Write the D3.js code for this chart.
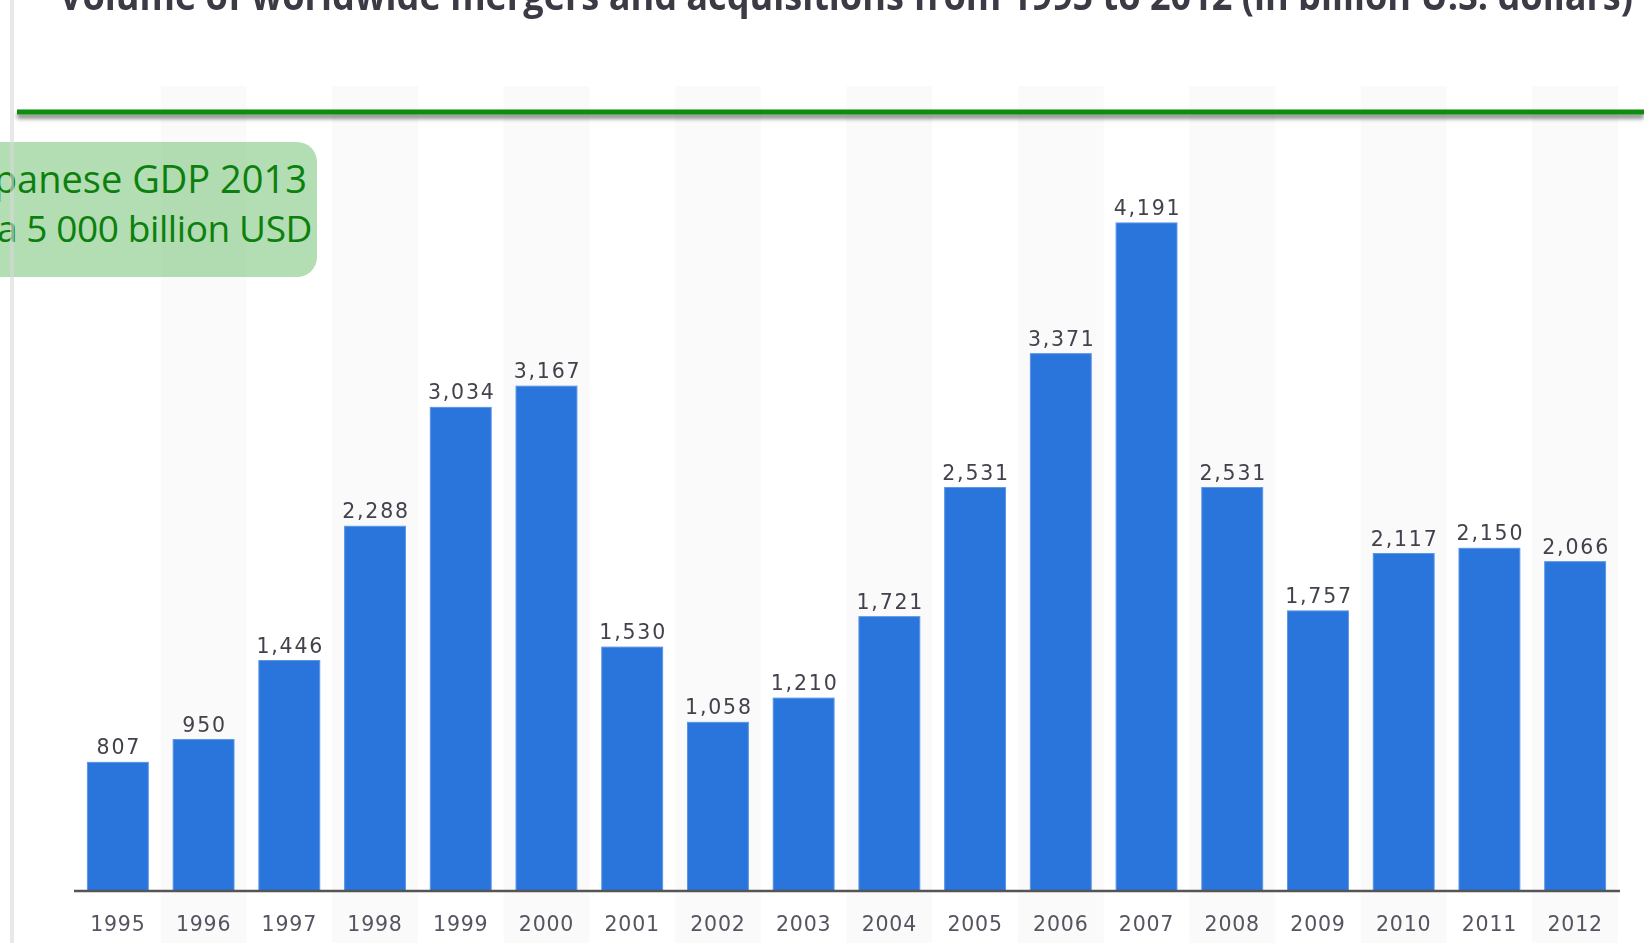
<!DOCTYPE html>
<html>
<head>
<meta charset="utf-8">
<script src="https://cdn.jsdelivr.net/npm/d3@7/dist/d3.min.js"></script>
<style>
  html, body { margin: 0; padding: 0; background: #ffffff; }
  svg { display: block; }
</style>
</head>
<body>
<svg id="chart" width="1644" height="943"></svg>
<script>
const years = ["1995","1996","1997","1998","1999","2000","2001","2002","2003","2004","2005","2006","2007","2008","2009","2010","2011","2012"];
const volumes = [807, 950, 1446, 2288, 3034, 3167, 1530, 1058, 1210, 1721, 2531, 3371, 4191, 2531, 1757, 2117, 2150, 2066];
const yTicks = [1000, 2000, 3000, 4000, 5000];
const titleText = "Volume of worldwide mergers and acquisitions from 1995 to 2012 (in billion U.S. dollars)";
const noteLines = ["Japanese GDP 2013", "ca 5 000 billion USD"];

const data = years.map((y, i) => ({ year: y, value: volumes[i] }));

const svg = d3.select("#chart");
const W = 1644, H = 943;

const defs = svg.append("defs");
const shadow = defs.append("filter").attr("id", "shadow").attr("x", "-5%").attr("y", "-200%").attr("width", "110%").attr("height", "500%");
shadow.append("feGaussianBlur").attr("in", "SourceAlpha").attr("stdDeviation", 2).attr("result", "b");
shadow.append("feOffset").attr("in", "b").attr("dy", 4).attr("result", "o");
shadow.append("feComponentTransfer").attr("in", "o").attr("result", "o2")
  .append("feFuncA").attr("type", "linear").attr("slope", 0.5);
const merge = shadow.append("feMerge");
merge.append("feMergeNode").attr("in", "o2");
merge.append("feMergeNode").attr("in", "SourceGraphic");

const soft = defs.append("filter").attr("id", "soft");
soft.append("feGaussianBlur").attr("stdDeviation", 0.6);

const x = d3.scaleBand().domain(years).range([75, 1618]).paddingInner(0.29).paddingOuter(0.145);
const y = d3.scaleLinear().domain([0, 5000]).range([891, 94]);

// alternating column shading
svg.append("g").selectAll("rect")
  .data(data.filter((d, i) => i % 2 === 1))
  .join("rect")
  .attr("x", d => x(d.year) - x.step() * x.paddingInner() / 2)
  .attr("width", x.step())
  .attr("y", 86)
  .attr("height", H - 86)
  .attr("fill", "#fafafa");

// gridlines
svg.append("g")
  .attr("transform", "translate(74,0)")
  .call(d3.axisLeft(y).tickValues(yTicks).tickSize(-1546).tickFormat(""))
  .call(g => g.select(".domain").remove())
  .call(g => g.selectAll("line").attr("stroke", "#e8e8e8").attr("stroke-width", 2.5).attr("filter", "url(#soft)"));

// bars
svg.append("g").selectAll("rect")
  .data(data)
  .join("rect")
  .attr("x", d => x(d.year))
  .attr("width", x.bandwidth())
  .attr("y", d => y(d.value))
  .attr("height", d => y(0) - y(d.value))
  .attr("fill", "#2a75db")
  .attr("stroke", "#5b95e6")
  .attr("stroke-width", 1);

// value labels
svg.append("g").selectAll("text")
  .data(data)
  .join("text")
  .attr("x", d => x(d.year) + x.bandwidth() / 2 + 1)
  .attr("y", d => y(d.value) - 8)
  .attr("text-anchor", "middle")
  .attr("font-family", "DejaVu Sans, Verdana, sans-serif")
  .attr("font-size", 20.5)
  .attr("letter-spacing", 1.8)
  .attr("fill", "#43424d")
  .attr("filter", "url(#soft)")
  .text(d => d3.format(",")(d.value));

// x axis
const xAxis = svg.append("g")
  .attr("transform", "translate(0,891)")
  .call(d3.axisBottom(x).tickSize(0).tickPadding(0));
xAxis.select(".domain").attr("d", "M74,0H1620").attr("stroke", "#555555").attr("stroke-width", 2.5);
xAxis.selectAll("text")
  .attr("y", 40)
  .attr("dy", 0)
  .attr("font-family", "DejaVu Sans, Verdana, sans-serif")
  .attr("font-size", 20.5)
  .attr("letter-spacing", 0.8)
  .attr("fill", "#555562")
  .attr("filter", "url(#soft)");

// title (cut off at top)
svg.append("text")
  .attr("x", 59)
  .attr("y", 10)
  .attr("font-family", "Open Sans, sans-serif")
  .attr("font-weight", "bold")
  .attr("font-size", 40)
  .attr("textLength", 1574)
  .attr("lengthAdjust", "spacingAndGlyphs")
  .attr("fill", "#3a3a44")
  .attr("filter", "url(#soft)")
  .text(titleText);

// green reference line
svg.append("rect")
  .attr("x", 17).attr("y", 109.5)
  .attr("width", W - 17).attr("height", 5)
  .attr("fill", "#0b8c0b")
  .attr("filter", "url(#shadow)");

// annotation box
svg.append("rect")
  .attr("x", -30).attr("y", 142)
  .attr("width", 347).attr("height", 135)
  .attr("rx", 20).attr("ry", 20)
  .attr("fill", "rgb(103,187,103)")
  .attr("fill-opacity", 0.5);

const note = svg.append("g")
  .attr("font-family", "Open Sans, sans-serif")
  .attr("fill", "#0c800c")
  .attr("text-anchor", "end");
note.append("text").attr("x", 307).attr("y", 193).attr("font-size", 38).text(noteLines[0]);
note.append("text").attr("x", 312).attr("y", 242).attr("font-size", 37).attr("letter-spacing", -0.4).text(noteLines[1]);

// left frame line
svg.append("rect")
  .attr("x", 10).attr("y", 0)
  .attr("width", 4).attr("height", H)
  .attr("fill", "#d8d8d8")
  .attr("opacity", 0.6);
</script>
</body>
</html>
